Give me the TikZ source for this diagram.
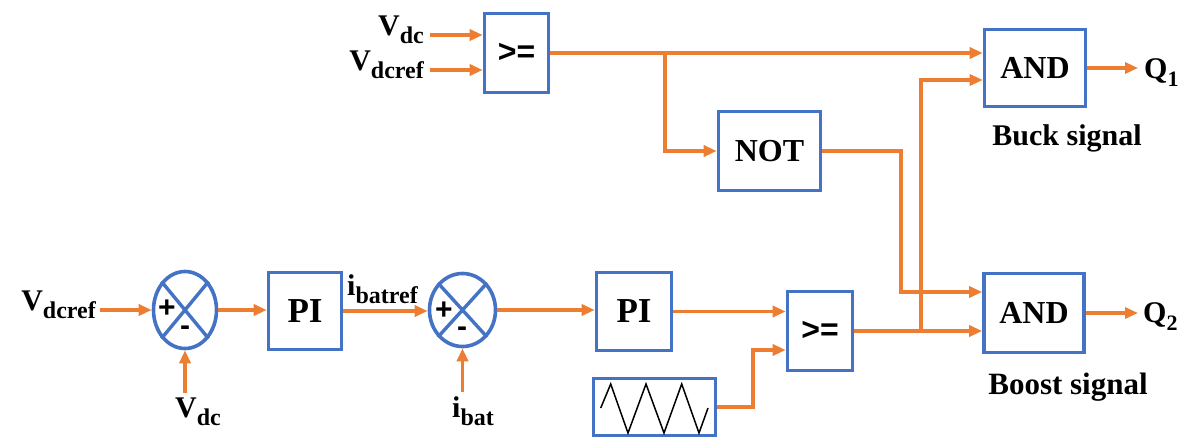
\documentclass[tikz,border=0pt]{standalone}
\usepackage{fontspec}
\setmainfont{Liberation Serif}
\newfontfamily\sansf{Liberation Sans}
\usetikzlibrary{arrows.meta,shapes.geometric}
\definecolor{bx}{HTML}{4472C4}
\definecolor{ln}{HTML}{ED7D31}
\newcommand{\fsz}[1]{\fontsize{#1}{#1}\selectfont}
\newcommand{\sbx}[2][24]{\raisebox{-8pt}{\fsz{#1}#2}}
\begin{document}
\begin{tikzpicture}[x=1pt,y=-1pt,
  blk/.style={draw=bx,line width=3.6pt,fill=white,inner sep=0pt,font=\bfseries\fsz{32}},
  gebox/.style={blk,font=\sansf\bfseries\fsz{32}},
  sumn/.style={ellipse,draw=bx,line width=3.6pt,inner sep=0pt},
  arr/.style={draw=ln,line width=3.4pt,-{Triangle[length=13pt,width=11pt]}},
  lbl/.style={inner sep=0pt,font=\bfseries\fsz{30}},
  sgn/.style={inner sep=0pt,font=\sansf\bfseries\fsz{30}},
  wave/.style={draw=black,line width=1.5pt,line join=miter}]
\fill[white] (0,0) rectangle (1204,439);
\useasboundingbox (0,0) rectangle (1204,439);

% blocks
\node[gebox,minimum width=64pt,minimum height=79pt] (ge1) at (516.5,53) {>=};
\node[blk,minimum width=102pt,minimum height=79pt] (notb) at (769.5,151) {NOT};
\node[blk,minimum width=101pt,minimum height=77pt] (and1) at (1035,68) {AND};
\node[blk,minimum width=100pt,minimum height=79pt] (and2) at (1034,313) {AND};
\node[blk,minimum width=73pt,minimum height=77pt,font=\bfseries\fsz{35}] (pi1) at (305,311) {PI};
\node[blk,minimum width=75pt,minimum height=78pt,font=\bfseries\fsz{35}] (pi2) at (634,311.5) {PI};
\node[gebox,minimum width=65pt,minimum height=79pt] (ge2) at (820,331) {>=};
\node[blk,minimum width=122pt,minimum height=57pt] (tri) at (654.5,407) {};
\node[sumn,minimum width=63pt,minimum height=77pt] (sum1) at (185,310) {};
\node[sumn,minimum width=66pt,minimum height=73pt] (sum2) at (462.5,310) {};

% crosses and signs
\draw[bx,line width=3.4pt] (sum1.north west) -- (sum1.south east) (sum1.north east) -- (sum1.south west);
\draw[bx,line width=3.4pt] (sum2.north west) -- (sum2.south east) (sum2.north east) -- (sum2.south west);
\node[sgn] (p1) at (167,309) {+};
\node[sgn] (m1) at (185,331) {-};
\node[sgn] (p2) at (444,311) {+};
\node[sgn] (m2) at (462,332) {-};

% triangle wave
\draw[wave] (600.7,408) -- (610.7,384) -- (628,433) -- (646,384) -- (664,433) -- (681.7,384) -- (699,433) -- (708,408);

% labels
\node[lbl,inner xsep=6pt,anchor=base east] (vdcT) at (430,35) {V\sbx{dc}};
\node[lbl,inner xsep=6pt,anchor=base east] (vrefT) at (430,70) {V\sbx{dcref}};
\node[lbl,inner xsep=4pt,anchor=base east] (vrefL) at (100,310) {V\sbx{dcref}};
\node[lbl,inner ysep=4pt,anchor=base west] (vdcB) at (175,417) {V\sbx{dc}};
\node[lbl,inner ysep=4pt,anchor=base west] (ibat) at (452,417) {i\sbx{bat}};
\node[lbl,anchor=base west] (ibref) at (347,295) {i\sbx{batref}};
\node[lbl,inner xsep=6pt,anchor=base west] (q1) at (1138,78) {Q\sbx[22]{1}};
\node[lbl,inner xsep=5pt,anchor=base west] (q2) at (1138,322) {Q\sbx[22]{2}};
\node[lbl,font=\bfseries\fsz{30}] (buck) at (1067,138) {Buck signal};
\node[lbl,font=\bfseries\fsz{31}] (boost) at (1068,387) {Boost signal};

% branch points
\coordinate (b1) at (665,53);
\coordinate (n2) at (901,292);
\coordinate (b2) at (921,331);
\coordinate (a1in2) at (921,80);
\coordinate (t1) at (753,350);

% connectors
\draw[arr] (vdcT.base east) -- (vdcT.base east -| ge1.west);
\draw[arr] (vrefT.base east) -- (vrefT.base east -| ge1.west);
\draw[arr] (ge1.east) -- (ge1.east -| and1.west);
\draw[arr] (b1) |- (notb.west);
\draw[arr] (notb.east) -| (n2) -- (n2 -| and2.west);
\draw[arr] (ge2.east) -- (ge2.east -| and2.west);
\draw[arr] (b2) -- (a1in2) -- (a1in2 -| and1.west);
\draw[arr] (and1.east) -- (and1.east -| q1.west);
\draw[arr] (and2.east) -- (and2.east -| q2.west);
\draw[arr] (vrefL.base east) -- (sum1.west);
\draw[arr] (sum1.south |- vdcB.north) -- (sum1.south);
\draw[arr] (sum1.east) -- (sum1.east -| pi1.west);
\draw[arr] (pi1.east) -- (pi1.east -| sum2.west);
\draw[arr] (sum2.south |- ibat.north) -- (sum2.south);
\draw[arr] (sum2.east) -- (sum2.east -| pi2.west);
\draw[arr] (pi2.east) -- (pi2.east -| ge2.west);
\draw[arr] (tri.east) -| (t1) -- (t1 -| ge2.west);
\end{tikzpicture}
\end{document}
